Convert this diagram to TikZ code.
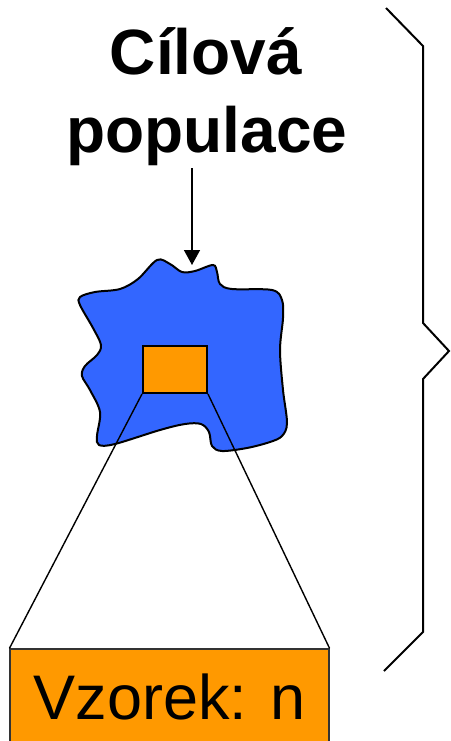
\documentclass[tikz,border=0pt]{standalone}
\usepackage{fontspec}
\setmainfont{Liberation Sans}
\usetikzlibrary{arrows.meta}
\definecolor{blobblue}{HTML}{3366FF}
\definecolor{sampleorange}{HTML}{FF9900}
\tikzset{
  titletext/.style={font=\fontsize{64}{78}\selectfont\bfseries, inner sep=0pt, anchor=base},
  blobstyle/.style={draw=black, line width=2pt, fill=blobblue},
  samplebox/.style={draw=black, line width=2pt, fill=sampleorange, minimum width=64pt, minimum height=47pt, inner sep=0pt},
  bigbox/.style={draw=black!80, line width=1.2pt, fill=sampleorange, minimum width=319pt, minimum height=96pt, inner sep=0pt, font=\fontsize{63}{70}\selectfont},
  connector/.style={draw=black, line width=1.4pt},
  bracestyle/.style={draw=black, line width=2pt},
}
\begin{document}
\begin{tikzpicture}[x=1pt,y=-1pt]
\useasboundingbox (0,0) rectangle (450,741);
% title
\node[titletext] (title1) at (206,75) {Cílová};
\node[titletext] (title2) at (207,153) {populace};
% arrow
\coordinate (arrowtop) at (192,168);
\coordinate (arrowtip) at (192,265);
% blob
\draw[blobstyle] plot[smooth cycle, tension=0.55] coordinates {
(157,260) (170,264) (182,272) (195,271) (213,265) (217,272) (220,284) (232,289)
(272,290) (282,300) (283,318) (280,350) (283,390) (287,423) (282,436) (270,442)
(247,448) (222,451) (212,446) (209,432) (201,424) (185,424) (160,430) (115,444)
(99,445) (97,436) (100,412) (90,390) (82,376) (85,366) (97,355) (101,345)
(93,328) (80,305) (80,297) (95,292) (120,289) (138,279)};
\draw[line width=1.5pt, -{Triangle[width=16pt,length=15pt]}] (arrowtop) -- (arrowtip);
% sample inside blob
\node[samplebox] (sample) at (175,369.5) {};
% big sample box
\node[bigbox] (vzorek) at (169.5,697) {Vzorek: n};
% connectors
\draw[connector] (sample.south west) -- (vzorek.north west);
\draw[connector] (sample.south east) -- (vzorek.north east);
% brace
\draw[bracestyle] (386,8) -- (423,46) -- (423,323) -- (449,351) -- (423,379) -- (423,632) -- (384,671);
\end{tikzpicture}
\end{document}
